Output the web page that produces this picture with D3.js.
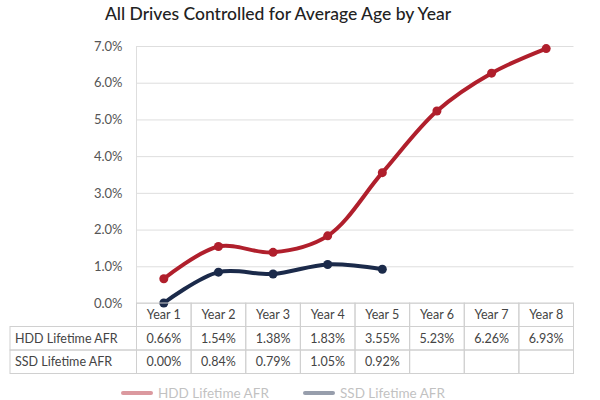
<!DOCTYPE html>
<html>
<head>
<meta charset="utf-8">
<script src="https://cdn.jsdelivr.net/npm/d3@7"></script>
<style>
  body { margin: 0; background: #fff; }
  svg { font-family: 'Lato', 'Open Sans', sans-serif; }
</style>
</head>
<body>
<svg id="chart" width="600" height="400"></svg>
<script>
var years = ["Year 1", "Year 2", "Year 3", "Year 4", "Year 5", "Year 6", "Year 7", "Year 8"];
var hddAfr = [0.66, 1.54, 1.38, 1.83, 3.55, 5.23, 6.26, 6.93];
var ssdAfr = [0.00, 0.84, 0.79, 1.05, 0.92];
var yTicks = [0, 1, 2, 3, 4, 5, 6, 7];
var seriesNames = ["HDD Lifetime AFR", "SSD Lifetime AFR"];

var svg = d3.select("#chart");
var hddColor = "#b01f2c", ssdColor = "#1b2a4a";

var plotLeft = 136.5, plotRight = 573.5, plotTop = 46, plotBottom = 303;

var x = d3.scaleBand().domain(years).range([plotLeft, plotRight]);
var y = d3.scaleLinear().domain([0, 7]).range([plotBottom, plotTop]);

// title
svg.append("text")
    .attr("x", 278).attr("y", 20)
    .attr("text-anchor", "middle")
    .attr("font-size", 17.5)
    .attr("font-weight", 500)
    .attr("fill", "#222")
    .text("All Drives Controlled for Average Age by Year");

// gridlines + y labels
var yAxis = d3.axisLeft(y).tickValues(yTicks)
    .tickFormat(function(d){ return d.toFixed(1) + "%"; })
    .tickSize(-(plotRight - plotLeft)).tickPadding(14);
var ga = svg.append("g").attr("transform", "translate(" + plotLeft + ",0)").call(yAxis);
ga.select(".domain").remove();
ga.selectAll(".tick line").attr("stroke", "#dedede");
ga.selectAll(".tick text").attr("font-size", 13).attr("fill", "#555")
    .attr("font-family", "'Lato', sans-serif");

svg.append("line")
    .attr("x1", plotLeft).attr("x2", plotLeft).attr("y1", plotTop).attr("y2", plotBottom)
    .attr("stroke", "#dedede");

// lines
var line = d3.line()
    .x(function(d, i){ return x(years[i]) + x.bandwidth() / 2; })
    .y(function(d){ return y(d); })
    .curve(d3.curveCatmullRom.alpha(0.5));

[[hddAfr, hddColor], [ssdAfr, ssdColor]].forEach(function(s){
    svg.append("path")
        .datum(s[0])
        .attr("d", line)
        .attr("fill", "none")
        .attr("stroke", s[1])
        .attr("stroke-width", 4)
        .attr("stroke-linecap", "round");
    svg.append("g").selectAll("circle")
        .data(s[0])
        .enter()
        .append("circle")
        .attr("cx", function(d, i){ return x(years[i]) + x.bandwidth() / 2; })
        .attr("cy", function(d){ return y(d); })
        .attr("r", 4.5)
        .attr("fill", s[1]);
});

// data table
var tableLeft = 10, rowH = 23.5, tableTop = plotBottom;
var rows = [
    { label: "", vals: years },
    { label: seriesNames[0], vals: hddAfr.map(function(v){ return v.toFixed(2) + "%"; }) },
    { label: seriesNames[1], vals: ssdAfr.map(function(v){ return v.toFixed(2) + "%"; }) }
];
var tg = svg.append("g");
rows.forEach(function(r, ri){
    var ry = tableTop + ri * rowH;
    if (ri > 0) {
        tg.append("rect").attr("x", tableLeft).attr("y", ry)
            .attr("width", plotLeft - tableLeft).attr("height", rowH)
            .attr("fill", "none").attr("stroke", "#d0d0d0");
        tg.append("text").attr("x", tableLeft + 5).attr("y", ry + rowH / 2 + 4.5)
            .attr("font-size", 12.5).attr("fill", "#444").text(r.label);
    }
    years.forEach(function(yr, ci){
        tg.append("rect").attr("x", x(yr)).attr("y", ry)
            .attr("width", x.bandwidth()).attr("height", rowH)
            .attr("fill", "none").attr("stroke", "#d0d0d0");
        if (r.vals[ci] !== undefined) {
            tg.append("text").attr("x", x(yr) + x.bandwidth() / 2).attr("y", ry + rowH / 2 + 4.5)
                .attr("text-anchor", "middle")
                .attr("font-size", 12.5).attr("fill", "#444").text(r.vals[ci]);
        }
    });
});

// legend (faded)
var legend = svg.append("g").attr("opacity", 0.45);
[[123, hddColor, seriesNames[0]], [305, ssdColor, seriesNames[1]]].forEach(function(l){
    legend.append("line").attr("x1", l[0]).attr("x2", l[0] + 28)
        .attr("y1", 393).attr("y2", 393)
        .attr("stroke", l[1]).attr("stroke-width", 4).attr("stroke-linecap", "round");
    legend.append("text").attr("x", l[0] + 35).attr("y", 398)
        .attr("font-size", 13.5).attr("fill", "#777").text(l[2]);
});
</script>
</body>
</html>
